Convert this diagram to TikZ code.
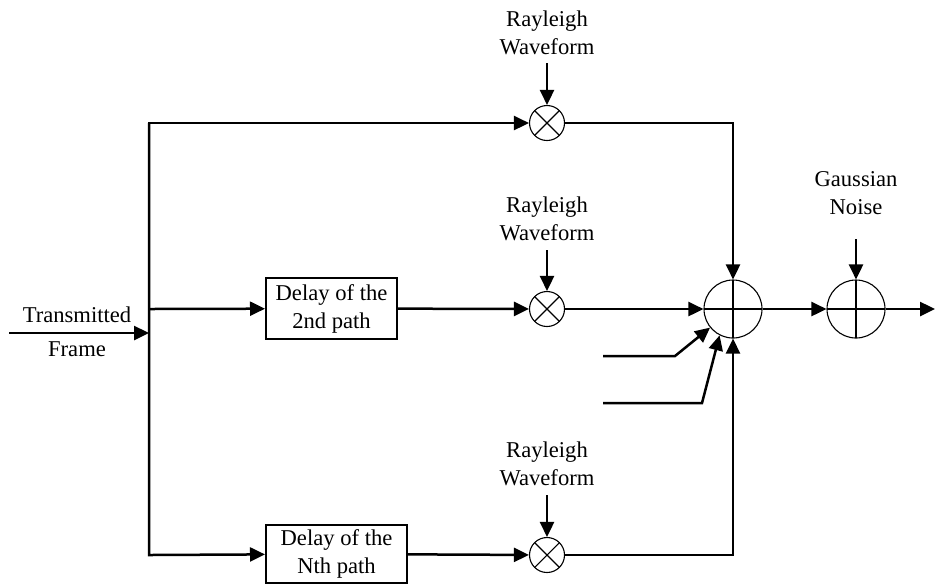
\documentclass[tikz,border=0pt]{standalone}
\usepackage{fontspec}
\setmainfont{Liberation Serif}
\usetikzlibrary{arrows.meta}
\begin{document}
\begin{tikzpicture}[x=0.5pt,y=-0.5pt,
  wire/.style={line width=1.25pt},
  sig/.style={wire,-{Triangle[length=7.5pt,width=7pt]}},
  lbl/.style={align=center,font=\fontsize{11.3}{14}\selectfont,inner sep=0pt},
  delaybox/.style={draw,line width=1pt,inner sep=0pt,align=center,
    font=\fontsize{11.3}{14}\selectfont},
  mixer/.style={circle,draw,line width=0.55pt,minimum size=17.5pt,inner sep=0pt,
    path picture={\draw[line width=0.55pt]
      (path picture bounding box.north west) -- (path picture bounding box.south east)
      (path picture bounding box.north east) -- (path picture bounding box.south west);}},
  adder/.style={circle,draw,line width=0.55pt,minimum size=29pt,inner sep=0pt,
    path picture={\draw[line width=0.55pt]
      (path picture bounding box.north) -- (path picture bounding box.south)
      (path picture bounding box.west) -- (path picture bounding box.east);}}]

\path[use as bounding box,fill=white] (0,0) rectangle (935,586);

% transmitted frame input and the splitting bus
\coordinate (in0) at (9,333);
\coordinate (in1) at (149,333);
\coordinate (bt) at (149,123);
\coordinate (bm) at (149,309);
\coordinate (bb) at (149,555);
\node[lbl] (tx) at (77,315) {Transmitted};
\node[lbl] (fr) at (77,349) {Frame};
\draw[sig] (in0) -- (in1);

% blocks
\node[delaybox,minimum width=65.5pt,minimum height=30.5pt] (d2) at (331.5,308.5) {Delay of the\\2nd path};
\node[delaybox,minimum width=70.5pt,minimum height=29pt] (dN) at (336.5,554) {Delay of the\\Nth path};
\node[mixer] (m1) at (547,123) {};
\node[mixer] (m2) at (547,309) {};
\node[mixer] (mN) at (547,555) {};
\node[adder] (add) at (733,309) {};
\node[adder] (noise) at (856,309) {};

% fading waveforms and noise
\node[lbl] (r1) at (547,33) {Rayleigh\\Waveform};
\node[lbl] (r2) at (547,219) {Rayleigh\\Waveform};
\node[lbl] (rN) at (547,464) {Rayleigh\\Waveform};
\node[lbl] (gn) at (856,193) {Gaussian\\Noise};
\coordinate (r1s) at (547,63);
\coordinate (r2s) at (547,250);
\coordinate (rNs) at (547,495);
\coordinate (gns) at (856,239);
\draw[sig] (r1s) -- (m1);
\draw[sig] (r2s) -- (m2);
\draw[sig] (rNs) -- (mN);
\draw[sig] (gns) -- (noise);

% paths
\draw[sig] (bb) -- (bt) -- (m1);
\draw[sig] (bt) -- (bb) -- (dN);
\draw[sig] (bm) -- (d2);
\draw[sig] (d2) -- (m2);
\draw[sig] (dN) -- (mN);
\draw[sig] (m1) -- (m1 -| add) -- (add);
\draw[sig] (m2) -- (add);
\draw[sig] (mN) -- (mN -| add) -- (add);

% further paths into the combiner
\coordinate (e1a) at (603,356);
\coordinate (e1b) at (675,356);
\coordinate (e2a) at (603,403);
\coordinate (e2b) at (702,403);
\draw[sig] (e1a) -- (e1b) -- (add);
\draw[sig] (e2a) -- (e2b) -- (add.243);

% output
\coordinate (out) at (935,309);
\draw[sig] (add) -- (noise);
\draw[sig] (noise) -- (out);
\end{tikzpicture}
\end{document}
